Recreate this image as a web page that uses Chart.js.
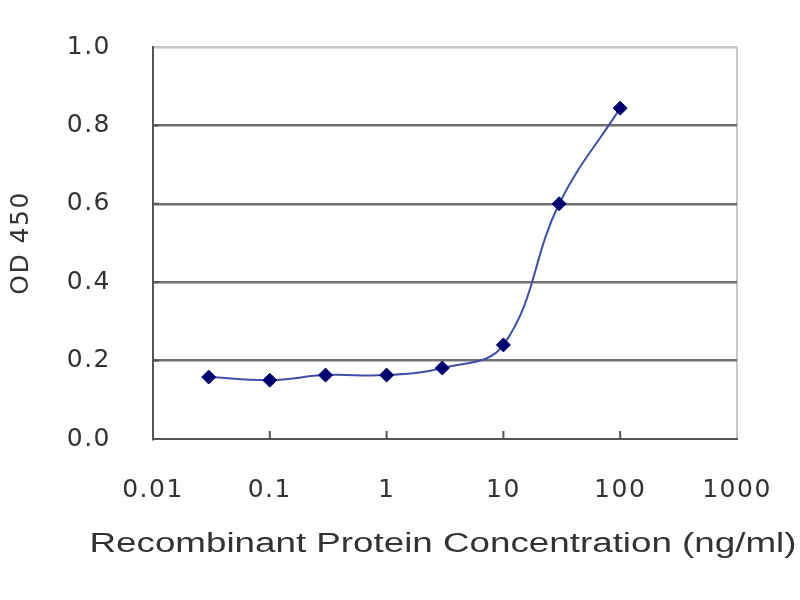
<!DOCTYPE html>
<html>
<head>
<meta charset="utf-8">
<script src="https://cdn.jsdelivr.net/npm/chart.js@4"></script>
<style>
  html, body { margin: 0; padding: 0; background: #fff; }
</style>
</head>
<body>
<canvas id="chart" width="800" height="600"></canvas>
<script>
var concentrations = [0.03, 0.1, 0.3, 1, 3, 10, 30, 100];
var od450 = [0.158, 0.150, 0.163, 0.163, 0.181, 0.240, 0.600, 0.844];
var xTicks = [0.01, 0.1, 1, 10, 100, 1000];
var yTicks = [0, 0.2, 0.4, 0.6, 0.8, 1.0];
var xTitle = 'Recombinant Protein Concentration (ng/ml)';
var yTitle = 'OD 450';

var txtColor = '#333333';
var fontFam = '"DejaVu Sans", "Liberation Sans", Arial, sans-serif';

// the original text looks stretched sideways, add some spacing at draw time
var wideText = {
    id: 'wideText',
    beforeDraw: function (chart) { chart.ctx.letterSpacing = '1.5px'; }
};

// x title is wider than the plot, so draw it across the canvas (stretched like the source)
var xTitlePlugin = {
    id: 'xTitlePlugin',
    afterDraw: function (chart) {
        var c = chart.ctx;
        c.save();
        c.letterSpacing = '0px';
        c.font = '27px "Liberation Sans", Arial, sans-serif';
        c.fillStyle = txtColor;
        c.textAlign = 'center';
        c.textBaseline = 'middle';
        var w = c.measureText(xTitle).width;
        var sx = 707 / w;
        c.translate(443, 545);
        c.scale(sx, 1);
        c.fillText(xTitle, 0, 0);
        c.restore();
    }
};

// short inward tick marks like the original excel plot
var innerTicks = {
    id: 'innerTicks',
    afterDraw: function (chart) {
        var c = chart.ctx, x = chart.scales.x, y = chart.scales.y;
        c.save();
        c.strokeStyle = '#555555';
        c.lineWidth = 2;
        c.beginPath();
        xTicks.slice(1, -1).forEach(function (v) {
            var px = x.getPixelForValue(v);
            c.moveTo(px, y.bottom);
            c.lineTo(px, y.bottom - 8);
        });
        yTicks.slice(1, -1).forEach(function (v) {
            var py = y.getPixelForValue(v);
            c.moveTo(x.left, py);
            c.lineTo(x.left + 6, py);
        });
        c.stroke();
        c.restore();
    }
};

var ctx = document.getElementById('chart').getContext('2d');

var chart = new Chart(ctx, {
    type: 'line',
    data: {
        datasets: [{
            data: concentrations.map(function (c, i) { return { x: c, y: od450[i] }; }),
            borderColor: '#4050a8',
            borderWidth: 2,
            tension: 0.4,
            pointStyle: 'rectRot',
            pointRadius: 7,
            pointBackgroundColor: '#000070',
            pointBorderColor: '#000070',
            pointBorderWidth: 1
        }]
    },
    options: {
        responsive: false,
        animation: false,
        devicePixelRatio: 1,
        layout: { padding: { top: 47, right: 63, left: 0, bottom: 0 } },
        plugins: { legend: { display: false }, tooltip: { enabled: false } },
        scales: {
            x: {
                type: 'logarithmic',
                min: 0.01,
                max: 1000,
                afterBuildTicks: function (scale) {
                    scale.ticks = xTicks.map(function (v) { return { value: v }; });
                },
                afterFit: function (scale) {
                    scale.height = 161;
                    scale.paddingLeft = 0;
                    scale.paddingRight = 0;
                },
                ticks: {
                    color: txtColor,
                    padding: 36,
                    maxRotation: 0,
                    autoSkip: false,
                    font: { family: fontFam, size: 25 },
                    callback: function (v) { return String(v); }
                },
                grid: {
                    drawTicks: false,
                    lineWidth: 2,
                    color: function (c) {
                        return c.tick && c.tick.value === 1000 ? '#c8c8c8' : 'rgba(0,0,0,0)';
                    }
                },
                border: { color: '#555555', width: 2 },
                title: { display: false }
            },
            y: {
                min: 0,
                max: 1.0,
                afterBuildTicks: function (scale) {
                    scale.ticks = yTicks.map(function (v) { return { value: v }; });
                },
                afterFit: function (scale) {
                    scale.width = 153;
                    scale.paddingTop = 0;
                    scale.paddingBottom = 0;
                },
                ticks: {
                    color: txtColor,
                    padding: 42,
                    font: { family: fontFam, size: 25 },
                    callback: function (v) { return Number(v).toFixed(1); }
                },
                grid: {
                    drawTicks: false,
                    lineWidth: 2.5,
                    color: function (c) {
                        if (!c.tick) return 'rgba(0,0,0,0)';
                        if (c.tick.value === 0) return 'rgba(0,0,0,0)';
                        if (c.tick.value === 1) return '#c8c8c8';
                        return '#707070';
                    }
                },
                border: { color: '#555555', width: 2 },
                title: {
                    display: true,
                    text: yTitle,
                    color: txtColor,
                    font: { family: fontFam, size: 25 },
                    padding: { top: 6, bottom: 0 }
                }
            }
        }
    },
    plugins: [wideText, xTitlePlugin, innerTicks]
});
</script>
</body>
</html>
